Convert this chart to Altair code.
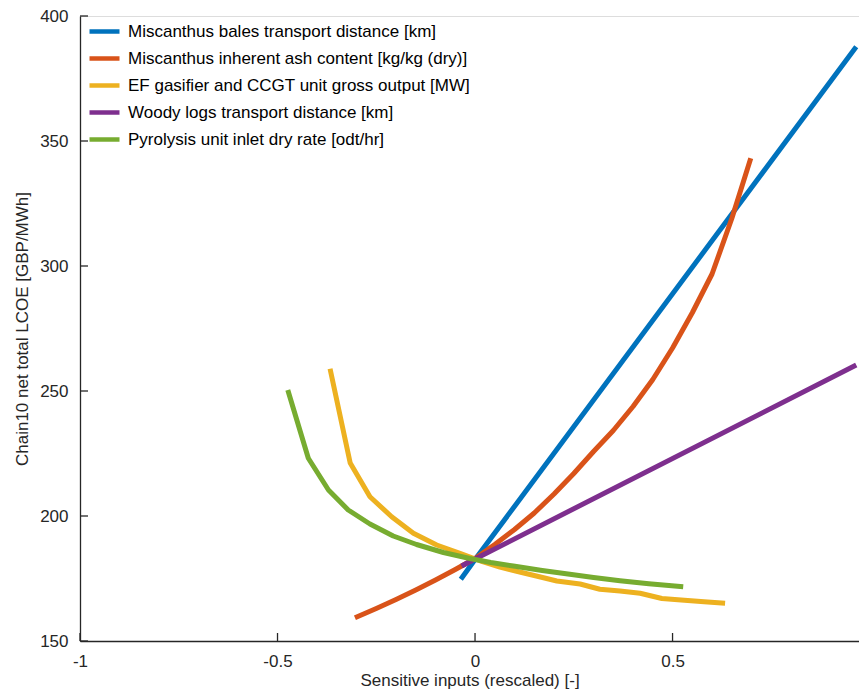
import altair as alt
import pandas as pd

series_names = [
    "Miscanthus bales transport distance [km]",
    "Miscanthus inherent ash content [kg/kg (dry)]",
    "EF gasifier and CCGT unit gross output [MW]",
    "Woody logs transport distance [km]",
    "Pyrolysis unit inlet dry rate [odt/hr]",
]
series_colors = ["#0072BD", "#D95319", "#EDB120", "#7E2F8E", "#77AC30"]

blue_x = [-0.036, 0.0, 0.965]
blue_y = [174.7, 182.6, 387.7]

orange_x = [-0.304, -0.25, -0.2, -0.15, -0.1, -0.05, 0.0, 0.05, 0.1, 0.15, 0.2, 0.25,
            0.3, 0.35, 0.4, 0.45, 0.5, 0.55, 0.6, 0.65, 0.698]
orange_y = [159.3, 163.0, 166.6, 170.4, 174.4, 178.6, 183.0, 188.6, 194.6, 201.2, 208.8, 217.0,
            225.8, 234.2, 243.8, 254.6, 267.2, 281.3, 296.8, 319.0, 343.1]

yellow_x = [-0.367, -0.316, -0.266, -0.211, -0.156, -0.097, -0.038, 0.013, 0.063, 0.113,
            0.163, 0.207, 0.266, 0.316, 0.367, 0.418, 0.473, 0.53, 0.58, 0.633]
yellow_y = [258.9, 221.2, 207.7, 199.7, 193.1, 188.4, 185.1, 182.1, 179.6, 177.6,
            175.7, 174.0, 172.8, 170.7, 170.0, 169.1, 167.0, 166.3, 165.7, 165.1]

purple_x = [-0.034, 0.0, 0.965]
purple_y = [180.0, 182.8, 260.4]

green_x = [-0.474, -0.422, -0.371, -0.321, -0.266, -0.207, -0.148, -0.08, -0.013, 0.04,
           0.097, 0.17, 0.24, 0.30, 0.367, 0.44, 0.527]
green_y = [250.4, 223.1, 210.4, 202.4, 196.8, 192.0, 188.6, 185.4, 183.0, 181.4,
           180.0, 178.2, 176.7, 175.4, 174.1, 172.9, 171.7]

x_ticks = [-1, -0.5, 0, 0.5]
y_ticks = [150, 200, 250, 300, 350, 400]

all_x = [blue_x, orange_x, yellow_x, purple_x, green_x]
all_y = [blue_y, orange_y, yellow_y, purple_y, green_y]

rows = []
for si, (xs, ys) in enumerate(zip(all_x, all_y)):
    for k, (xv, yv) in enumerate(zip(xs, ys)):
        rows.append({"series": series_names[si], "order": si, "k": k, "x": xv, "y": yv})
df = pd.DataFrame(rows)

FONT = "Liberation Sans"
AX = "#262626"
W, H = 779, 625

x_enc = alt.X(
    "x:Q",
    scale=alt.Scale(domain=[-1, 0.972], nice=False, zero=False),
    axis=alt.Axis(
        values=x_ticks, labelExpr="'' + datum.value", tickSize=0, labelPadding=12,
        labelFontSize=17, labelFont=FONT, labelColor=AX, labelFlush=False,
        domainColor=AX, domainWidth=1.3, grid=False,
        title="Sensitive inputs (rescaled) [-]", titleFontSize=17, titleFont=FONT,
        titleFontWeight="normal", titleColor=AX, titlePadding=3,
    ),
)
y_enc = alt.Y(
    "y:Q",
    scale=alt.Scale(domain=[150, 400], nice=False, zero=False),
    axis=alt.Axis(
        values=y_ticks, tickSize=0, labelPadding=12,
        labelFontSize=17, labelFont=FONT, labelColor=AX,
        domainColor=AX, domainWidth=1.3, grid=False,
        title="Chain10 net total LCOE [GBP/MWh]", titleFontSize=17, titleFont=FONT,
        titleFontWeight="normal", titleColor=AX, titlePadding=8,
    ),
)

lines = alt.Chart(df).mark_line(strokeWidth=5, strokeCap="butt", strokeJoin="round").encode(
    x=x_enc,
    y=y_enc,
    color=alt.Color(
        "series:N",
        scale=alt.Scale(domain=series_names, range=series_colors),
        legend=alt.Legend(
            orient="none", legendX=7, legendY=-2, title=None,
            symbolType="stroke", symbolStrokeWidth=4.5, symbolSize=900,
            labelFontSize=17, labelFont=FONT, labelColor="#000000",
            labelLimit=0, labelOffset=6, rowPadding=-3, padding=0,
        ),
    ),
    order="k:Q",
    detail="order:Q",
)

xt = alt.Chart(pd.DataFrame({"x": x_ticks})).mark_rule(color=AX, strokeWidth=1.3).encode(
    x=x_enc, y=alt.value(H), y2=alt.value(H - 8)
)
yt = alt.Chart(pd.DataFrame({"y": y_ticks})).mark_rule(color=AX, strokeWidth=1.3).encode(
    y=y_enc, x=alt.value(0), x2=alt.value(8)
)

chart = alt.layer(xt, yt, lines).properties(
    width=W, height=H,
    autosize=alt.AutoSizeParams(type="none"),
    padding={"left": 72, "top": 8, "right": 0, "bottom": 52},
).configure_view(stroke=None).configure(background="white")

chart.save("out.html", embed_options={"renderer": "svg", "actions": False})
